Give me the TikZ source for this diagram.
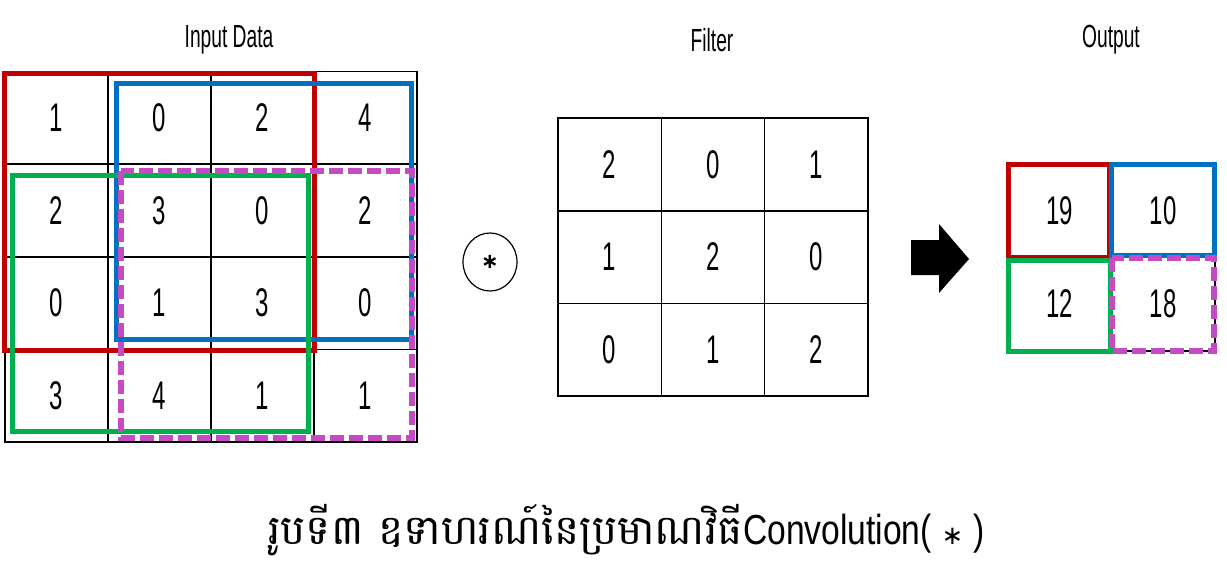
\documentclass[tikz,border=0pt]{standalone}
\usepackage{fontspec}
\setmainfont{Liberation Sans}
\newfontfamily\numfont[FakeStretch=0.6]{Liberation Sans}
\newfontfamily\capfont[FakeStretch=0.8]{Liberation Sans}
\newfontfamily\khmerfont[Script=Khmer,FakeStretch=1.03]{Battambang}
\newfontfamily\symfont{DejaVu Sans}
\usetikzlibrary{shapes.geometric}
\definecolor{cred}{HTML}{C00000}
\definecolor{cblue}{HTML}{0070C0}
\definecolor{cgreen}{HTML}{00B050}
\definecolor{cmag}{HTML}{C54BC5}
\tikzset{
  cell/.style={draw=black, line width=1.5pt, minimum width=103pt, minimum height=92.5pt, inner sep=0pt, font=\numfont\fontsize{40}{40}\selectfont},
  ttl/.style={font=\numfont\fontsize{32}{32}\selectfont},
  win/.style={line width=5pt},
  dwin/.style={line width=6pt, dash pattern=on 14pt off 5pt},
  opc/.style={draw, ellipse, line width=1.2pt, minimum width=54pt, minimum height=58pt, inner sep=0pt},
}
\begin{document}
\begin{tikzpicture}[x=1pt,y=-1pt]
\useasboundingbox (0,0) rectangle (1227,583);
% titles
\node[ttl] (tin) at (229,40) {Input Data};
\node[ttl] (tfi) at (712,40) {Filter};
\node[ttl] (tou) at (1111,40) {Output};
% input grid
\foreach \r/\y/\vals in {1/118/{1,0,2,4},2/210.5/{2,3,0,2},3/303/{0,1,3,0},4/395.5/{3,4,1,1}}{
  \foreach \v [count=\c] in \vals {
    \pgfmathsetmacro{\xx}{5+103*(\c-1)+51.5}
    \node[cell] (in-\r-\c) at (\xx,\y) {\v};
  }
}
% filter grid
\foreach \r/\y/\vals in {1/164.5/{2,0,1},2/257/{1,2,0},3/349.5/{0,1,2}}{
  \foreach \v [count=\c] in \vals {
    \pgfmathsetmacro{\xx}{558+103.3*(\c-1)+51.65}
    \node[cell, minimum width=103.3pt] (fi-\r-\c) at (\xx,\y) {\v};
  }
}
% output grid
\node[cell, minimum height=93.5pt] (o11) at (1059.5,210.5) {19};
\node[cell, minimum width=104pt, minimum height=93.5pt] (o12) at (1163,210.5) {10};
\node[cell, minimum height=93.5pt] (o21) at (1059.5,304) {12};
\node[cell, minimum width=104pt, minimum height=93.5pt] (o22) at (1163,304) {18};
% windows on input
\draw[win, cred] (4.5,74) rectangle (314,350);
\draw[win, cblue] (116,84) rectangle (411,339);
\draw[win, cgreen] (12.5,175.5) rectangle (308.5,431);
\draw[dwin, cmag] (121,171) rectangle (412,437.5);
% windows on output
\draw[win, cred] (1008.5,164.5) rectangle (1109,257);
\draw[win, cblue] (1111,164.5) rectangle (1214.5,255);
\draw[win, cgreen] (1008.5,260) rectangle (1110,351.5);
\draw[dwin, cmag] (1111.5,257.5) rectangle (1214,351);
% convolution operator
\node[opc] (op) at (490,262) {\symfont\fontsize{21}{21}\selectfont\raisebox{-2pt}{\bfseries ∗}};
% arrow
\fill[black] (911,240) -- (939,240) -- (939,224) -- (969,259) -- (939,293) -- (939,275) -- (911,275) -- cycle;
% caption
\node[anchor=base west, inner sep=0pt] (cap) at (268,544) {\khmerfont\fontsize{41}{41}\selectfont រូបទី៣ ឧទាហរណ៍នៃប្រមាណវិធី\capfont\fontsize{42}{42}\selectfont Convolution(\hspace{10pt}{\symfont\fontsize{26}{26}\selectfont ∗}\hspace{10pt})};
\end{tikzpicture}
\end{document}
